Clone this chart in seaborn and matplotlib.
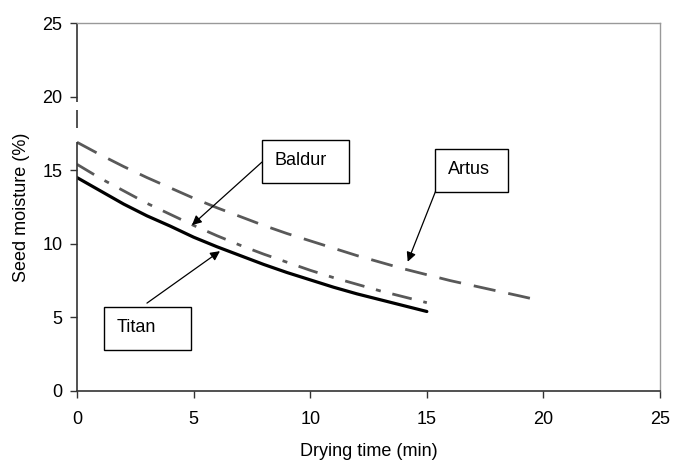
import numpy as np
import matplotlib
matplotlib.use("Agg")
import matplotlib.pyplot as plt
from matplotlib.patches import Rectangle
import seaborn as sns

# drying time (min) and seed moisture (%)
time_short = [0, 1, 2, 3, 4, 5, 6, 7, 8, 9, 10, 11, 12, 13, 14, 15]
titan = [14.5, 13.6, 12.7, 11.9, 11.2, 10.45, 9.8, 9.2, 8.6, 8.05, 7.55, 7.05, 6.6, 6.2, 5.8, 5.4]
baldur = [15.4, 14.45, 13.6, 12.75, 12.0, 11.25, 10.55, 9.9, 9.3, 8.75, 8.2, 7.7, 7.25, 6.8, 6.4, 6.0]
time_long = [0, 1, 2, 3, 4, 5, 6, 7, 8, 9, 10, 11, 12, 13, 14, 15, 16, 17, 18, 19, 19.7]
artus = [16.9, 16.05, 15.25, 14.5, 13.8, 13.1, 12.45, 11.85, 11.25, 10.7, 10.2, 9.7, 9.2,
         8.75, 8.3, 7.9, 7.5, 7.15, 6.8, 6.45, 6.2]

sns.set_style("white")
plt.rcParams['font.family'] = ['Liberation Sans', 'DejaVu Sans']
plt.rcParams['text.color'] = 'black'

fig, ax = plt.subplots(figsize=(6.77, 4.66), dpi=100)
fig.subplots_adjust(left=0.1137, right=0.975, bottom=0.161, top=0.9506)

grey = '#595959'
sns.lineplot(x=time_long, y=artus, color=grey, linewidth=2, linestyle=(0, (8, 4.7)), ax=ax)
sns.lineplot(x=time_short, y=baldur, color=grey, linewidth=2,
             linestyle=(0, (7.2, 4.3, 1.8, 4.3)), ax=ax)
sns.lineplot(x=time_short, y=titan, color='black', linewidth=2.3,
             solid_joinstyle='round', ax=ax)

ax.set_xlim(0, 25)
ax.set_ylim(0, 25)
ax.set_xticks([0, 5, 10, 15, 20, 25])
ax.set_yticks([0, 5, 10, 15, 20, 25])
ax.tick_params(axis='both', labelsize=13, labelcolor='black', direction='out', length=5,
               width=1, color='#333333', left=True, bottom=True)
ax.tick_params(axis='x', pad=9.5)
ax.tick_params(axis='y', pad=5.5)
ax.set_xlabel('Drying time (min)', fontsize=13, color='black', labelpad=11)
ax.set_ylabel('Seed moisture (%)', fontsize=13, color='black', labelpad=9)

for s in ['top', 'right']:
    ax.spines[s].set_color('#999999')
    ax.spines[s].set_linewidth(1)
ax.spines['bottom'].set_color('#333333')
ax.spines['bottom'].set_linewidth(1.2)
ax.spines['left'].set_visible(False)
# broken left axis line as in the original
ax.vlines([0, 0, 0], [0, 17.9, 19.6], [16.9, 19.1, 25], color='#333333', linewidth=1.2, clip_on=False)

arrow = dict(arrowstyle='-|>', color='black', lw=0.9, mutation_scale=14, shrinkA=0, shrinkB=0)
ax.annotate('', xy=(4.93, 11.27), xytext=(7.93, 15.55), arrowprops=arrow)
ax.annotate('', xy=(6.13, 9.5), xytext=(3.0, 5.97), arrowprops=arrow)
ax.annotate('', xy=(14.18, 8.78), xytext=(15.37, 13.55), arrowprops=arrow)

# label boxes
for (x0, y0, w, h) in [(7.93, 14.15, 3.73, 2.92), (1.16, 2.8, 3.73, 2.92), (15.37, 13.55, 3.09, 2.92)]:
    ax.add_patch(Rectangle((x0, y0), w, h, fc='white', ec='black', lw=1, zorder=5))
ax.text(8.45, 15.65, 'Baldur', fontsize=13, color='black', va='center', ha='left', zorder=6)
ax.text(1.7, 4.3, 'Titan', fontsize=13, color='black', va='center', ha='left', zorder=6)
ax.text(15.92, 15.05, 'Artus', fontsize=13, color='black', va='center', ha='left', zorder=6)

fig.savefig('out.png', dpi=100)
